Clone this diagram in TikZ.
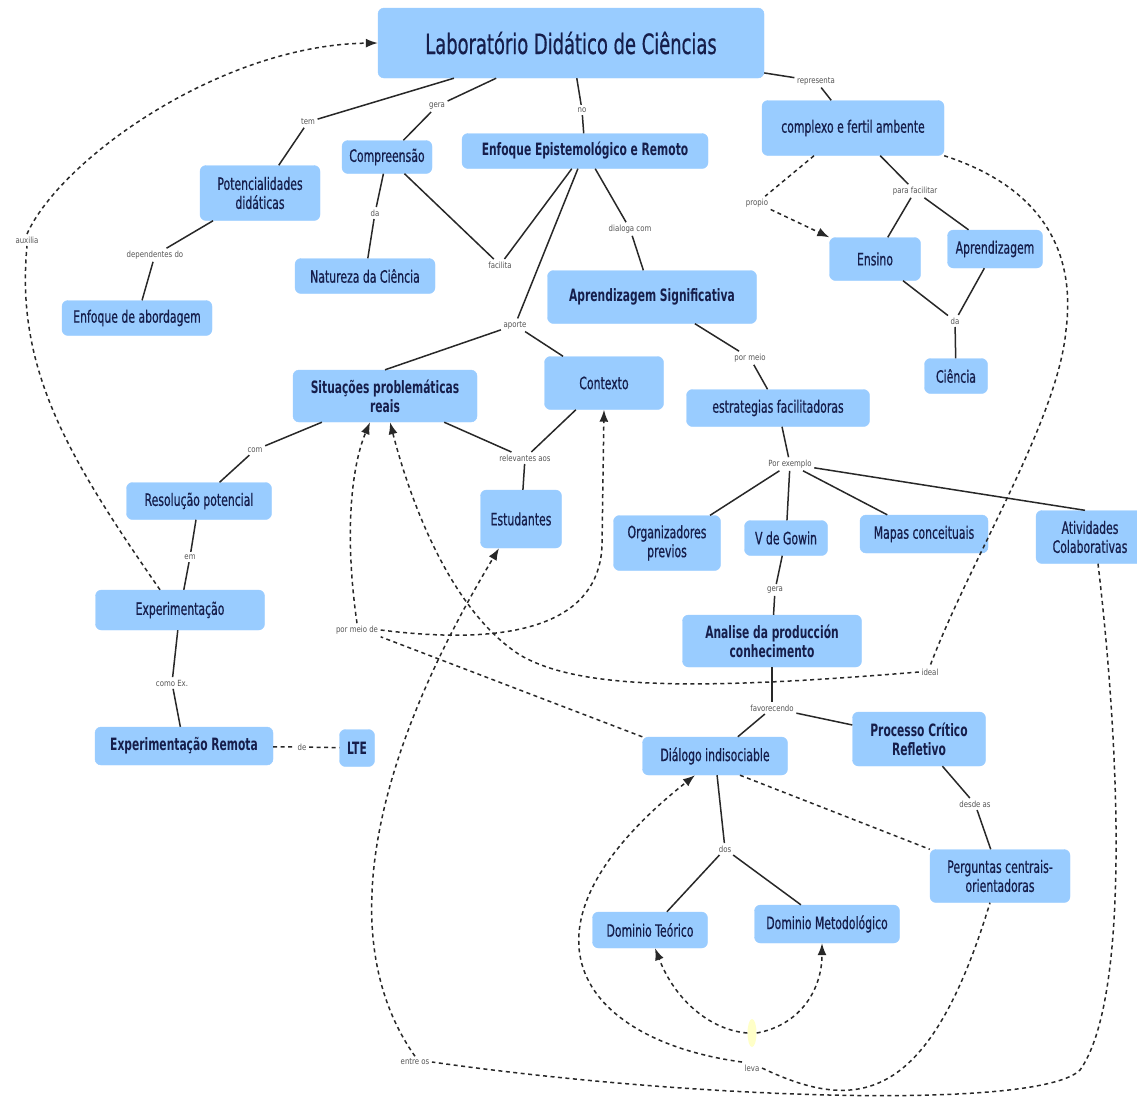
\documentclass[tikz,border=0pt]{standalone}
\usepackage{fontspec}
\newfontfamily\nodefont{DejaVu Sans}[FakeStretch=0.64, FakeBold=0.6]
\newfontfamily\nodebold{DejaVu Sans}[FakeStretch=0.63]
\newfontfamily\lblfont{DejaVu Sans}[FakeStretch=0.82]
\usetikzlibrary{arrows.meta,shapes.geometric}
\definecolor{boxblue}{RGB}{153,204,255}
\definecolor{txtnavy}{RGB}{22,30,75}
\definecolor{lnk}{RGB}{40,40,40}
\definecolor{lblgray}{RGB}{85,85,85}
\definecolor{paleyellow}{RGB}{255,255,200}
\tikzset{
  concept/.style={rectangle, rounded corners=6pt, fill=boxblue, draw=boxblue, text=txtnavy,
    font={\nodefont\fontsize{17}{19}\selectfont}, align=center, inner sep=2pt},
  bconcept/.style={concept, font={\nodebold\bfseries\fontsize{17}{19}\selectfont}},
  lbl/.style={font={\lblfont\fontsize{8.5}{10}\selectfont}, text=lblgray, inner sep=2.5pt},
  sline/.style={draw=lnk, line width=1.5pt},
  dline/.style={draw=lnk, line width=1.5pt, dash pattern=on 4pt off 3.5pt},
  arr/.style={-{Latex[length=12pt,width=9pt]}}
}
\begin{document}
\begin{tikzpicture}[x=1pt,y=-1pt]
\fill[white] (0,0) rectangle (1137,1106);
\useasboundingbox (0,0) rectangle (1137,1106);

% concepts
\node[concept, minimum width=386pt, minimum height=70pt, font={\nodefont\fontsize{28}{30}\selectfont}] (lab) at (571,43) {Laboratório Didático de Ciências};
\node[concept, minimum width=182pt, minimum height=55pt] (compl) at (853,128) {complexo e fertil ambente};
\node[bconcept, minimum width=246pt, minimum height=35pt] (enf) at (585,151) {Enfoque Epistemológico e Remoto};
\node[concept, minimum width=90pt, minimum height=33pt] (comp) at (387,157) {Compreensão};
\node[concept, minimum width=120pt, minimum height=55pt] (pot) at (260,193) {Potencialidades\\didáticas};
\node[concept, minimum width=140pt, minimum height=35pt] (nat) at (365,276) {Natureza da Ciência};
\node[concept, minimum width=150pt, minimum height=35pt] (enfab) at (137,318) {Enfoque de abordagem};
\node[bconcept, minimum width=209pt, minimum height=53pt] (aps) at (652,297) {Aprendizagem Significativa};
\node[concept, minimum width=91pt, minimum height=43pt] (ens) at (875,259) {Ensino};
\node[concept, minimum width=95pt, minimum height=38pt] (apr) at (995,249) {Aprendizagem};
\node[concept, minimum width=63pt, minimum height=35pt] (cie) at (956,376) {Ciência};
\node[bconcept, minimum width=184pt, minimum height=52pt] (sit) at (385,396) {Situações problemáticas\\reais};
\node[concept, minimum width=119pt, minimum height=53pt] (ctx) at (604,383) {Contexto};
\node[concept, minimum width=183pt, minimum height=37pt] (estr) at (778,408) {estrategias facilitadoras};
\node[concept, minimum width=145pt, minimum height=37pt] (res) at (199,501) {Resolução potencial};
\node[concept, minimum width=81pt, minimum height=58pt] (estu) at (521,519) {Estudantes};
\node[concept, minimum width=107pt, minimum height=55pt] (org) at (667,543) {Organizadores\\previos};
\node[concept, minimum width=83pt, minimum height=35pt] (vg) at (786,538) {V de Gowin};
\node[concept, minimum width=128pt, minimum height=38pt] (map) at (924,534) {Mapas conceituais};
\node[concept, minimum width=108pt, minimum height=53pt] (ati) at (1090,537) {Atividades\\Colaborativas};
\node[concept, minimum width=169pt, minimum height=40pt] (exp) at (180,610) {Experimentação};
\node[bconcept, minimum width=179pt, minimum height=52pt] (ana) at (772,641) {Analise da producción\\conhecimento};
\node[bconcept, minimum width=178pt, minimum height=38pt] (expr) at (184,746) {Experimentação Remota};
\node[bconcept, minimum width=35pt, minimum height=37pt] (lte) at (357,748) {LTE};
\node[concept, minimum width=145pt, minimum height=38pt] (dia) at (715,756) {Diálogo indisociable};
\node[bconcept, minimum width=133pt, minimum height=54pt] (pro) at (919,739) {Processo Crítico\\Refletivo};
\node[concept, minimum width=140pt, minimum height=53pt] (per) at (1000,876) {Perguntas centrais-\\orientadoras};
\node[concept, minimum width=115pt, minimum height=36pt] (dt) at (650,930) {Dominio Teórico};
\node[concept, minimum width=145pt, minimum height=38pt] (dm) at (827,924) {Dominio Metodológico};

% linking phrases
\node[lbl] (ltem) at (308,122) {tem};
\node[lbl] (lgera1) at (437,106) {gera};
\node[lbl] (lno) at (582,110) {no};
\node[lbl] (lrep) at (816,81) {representa};
\node[lbl] (lda1) at (375,213) {da};
\node[lbl] (lfac) at (500,265) {facilita};
\node[lbl] (ldia) at (630,229) {dialoga com};
\node[lbl] (ldep) at (155,255) {dependentes do};
\node[lbl] (laux) at (27,240) {auxilia};
\node[lbl] (lprop) at (757,203) {propio};
\node[lbl] (lpf) at (915,191) {para facilitar};
\node[lbl] (lda2) at (955,321) {da};
\node[lbl] (lapo) at (515,325) {aporte};
\node[lbl] (lpm) at (750,358) {por meio};
\node[lbl] (lcom) at (255,450) {com};
\node[lbl] (lrel) at (525,458) {relevantes aos};
\node[lbl] (lpe) at (790,464) {Por exemplo};
\node[lbl] (lem) at (190,557) {em};
\node[lbl] (lgera2) at (775,590) {gera};
\node[lbl] (lpmd) at (357,630) {por meio de};
\node[lbl] (lcomo) at (172,683) {como Ex.};
\node[lbl] (lideal) at (930,672) {ideal};
\node[lbl] (lfav) at (772,708) {favorecendo};
\node[lbl] (lde) at (302,747) {de};
\node[lbl] (ldesde) at (975,804) {desde as};
\node[lbl] (ldos) at (725,849) {dos};
\node[lbl] (lleva) at (752,1068) {leva};
\node[lbl] (lentre) at (415,1062) {entre os};
\node[ellipse, fill=paleyellow, minimum width=9pt, minimum height=28pt, inner sep=0pt] (blob) at (752,1033) {};

% solid connectors
\draw[sline] (lab) -- (ltem);
\draw[sline] (ltem) -- (pot);
\draw[sline] (lab) -- (lgera1);
\draw[sline] (lgera1) -- (comp);
\draw[sline] (lab) -- (lno);
\draw[sline] (lno) -- (enf);
\draw[sline] (lab) -- (lrep);
\draw[sline] (lrep) -- (compl);
\draw[sline] (comp) -- (lda1);
\draw[sline] (lda1) -- (nat);
\draw[sline] (comp) -- (lfac);
\draw[sline] (enf) -- (lfac);
\draw[sline] (enf) -- (lapo);
\draw[sline] (lapo) -- (sit.north);
\draw[sline] (lapo) -- (ctx);
\draw[sline] (enf) -- (ldia);
\draw[sline] (ldia) -- (aps);
\draw[sline] (pot) -- (ldep);
\draw[sline] (ldep) -- (enfab);
\draw[sline] (compl) -- (lpf);
\draw[sline] (lpf) -- (ens);
\draw[sline] (lpf) -- (apr);
\draw[sline] (ens) -- (lda2);
\draw[sline] (apr) -- (lda2);
\draw[sline] (lda2) -- (cie);
\draw[sline] (aps) -- (lpm);
\draw[sline] (lpm) -- (estr);
\draw[sline] (estr) -- (lpe);
\draw[sline] (lpe) -- (org);
\draw[sline] (lpe) -- (vg);
\draw[sline] (lpe) -- (map);
\draw[sline] (lpe) -- ([xshift=-5pt]ati.north);
\draw[sline] (vg) -- (lgera2);
\draw[sline] (lgera2) -- (ana);
\draw[sline] (ana) -- (lfav);
\draw[sline] (lfav) -- (dia);
\draw[sline] (lfav) -- (pro);
\draw[sline] (pro) -- (ldesde);
\draw[sline] (ldesde) -- (per);
\draw[sline] (dia) -- (ldos);
\draw[sline] (ldos) -- (dt);
\draw[sline] (ldos) -- (dm);
\draw[sline] (sit) -- (lcom);
\draw[sline] (lcom) -- (res);
\draw[sline] (sit) -- (lrel);
\draw[sline] (ctx) -- (lrel);
\draw[sline] (lrel) -- (estu);
\draw[sline] (res) -- (lem);
\draw[sline] (lem) -- (exp);
\draw[sline] (exp) -- (lcomo);
\draw[sline] (lcomo) -- (expr);

% dashed connectors
\draw[dline] (expr) -- (lde);
\draw[dline] (lde) -- (lte);
\draw[dline] ([xshift=-20pt]exp.north) .. controls (70,460) and (15,370) .. (laux.south);
\draw[dline,arr] (laux.north) .. controls (60,160) and (220,45) .. (lab.west);
\draw[dline] ([xshift=-39pt]compl.south) -- (lprop);
\draw[dline,arr] (lprop) -- (ens.north west);
\draw[dline] (compl.south east) .. controls (1050,190) and (1075,260) .. (1066,330) .. controls (1058,420) and (970,560) .. (lideal.north);
\draw[dline,arr] (lideal.west) .. controls (700,690) and (580,690) .. (520,655) .. controls (450,610) and (410,500) .. ([xshift=5pt]sit.south);
\draw[dline] (dia.north west) -- (lpmd.south east);
\draw[dline,arr] (lpmd.north) .. controls (345,540) and (350,470) .. ([xshift=-15pt]sit.south);
\draw[dline,arr] (lpmd.east) .. controls (540,650) and (600,610) .. (602,545) -- (ctx.south);
\draw[dline,arr] (lentre.north) .. controls (340,950) and (360,780) .. ([xshift=-22pt]estu.south);
\draw[dline] ([xshift=8pt]ati.south) .. controls (1120,750) and (1130,1000) .. (1080,1070) .. controls (1040,1110) and (700,1100) .. (lentre.east);
\draw[dline] ([xshift=25pt]dia.south) -- (per.north west);
\draw[dline] (lleva.east) .. controls (860,1115) and (930,1100) .. ([xshift=-10pt]per.south);
\draw[dline,arr] (lleva.north west) .. controls (580,1040) and (500,930) .. ([xshift=-20pt]dia.south);
\draw[dline,arr] (blob.west) .. controls (710,1030) and (675,1000) .. ([xshift=5pt]dt.south);
\draw[dline,arr] (blob.east) .. controls (800,1025) and (822,990) .. ([xshift=-5pt]dm.south);
\end{tikzpicture}
\end{document}
